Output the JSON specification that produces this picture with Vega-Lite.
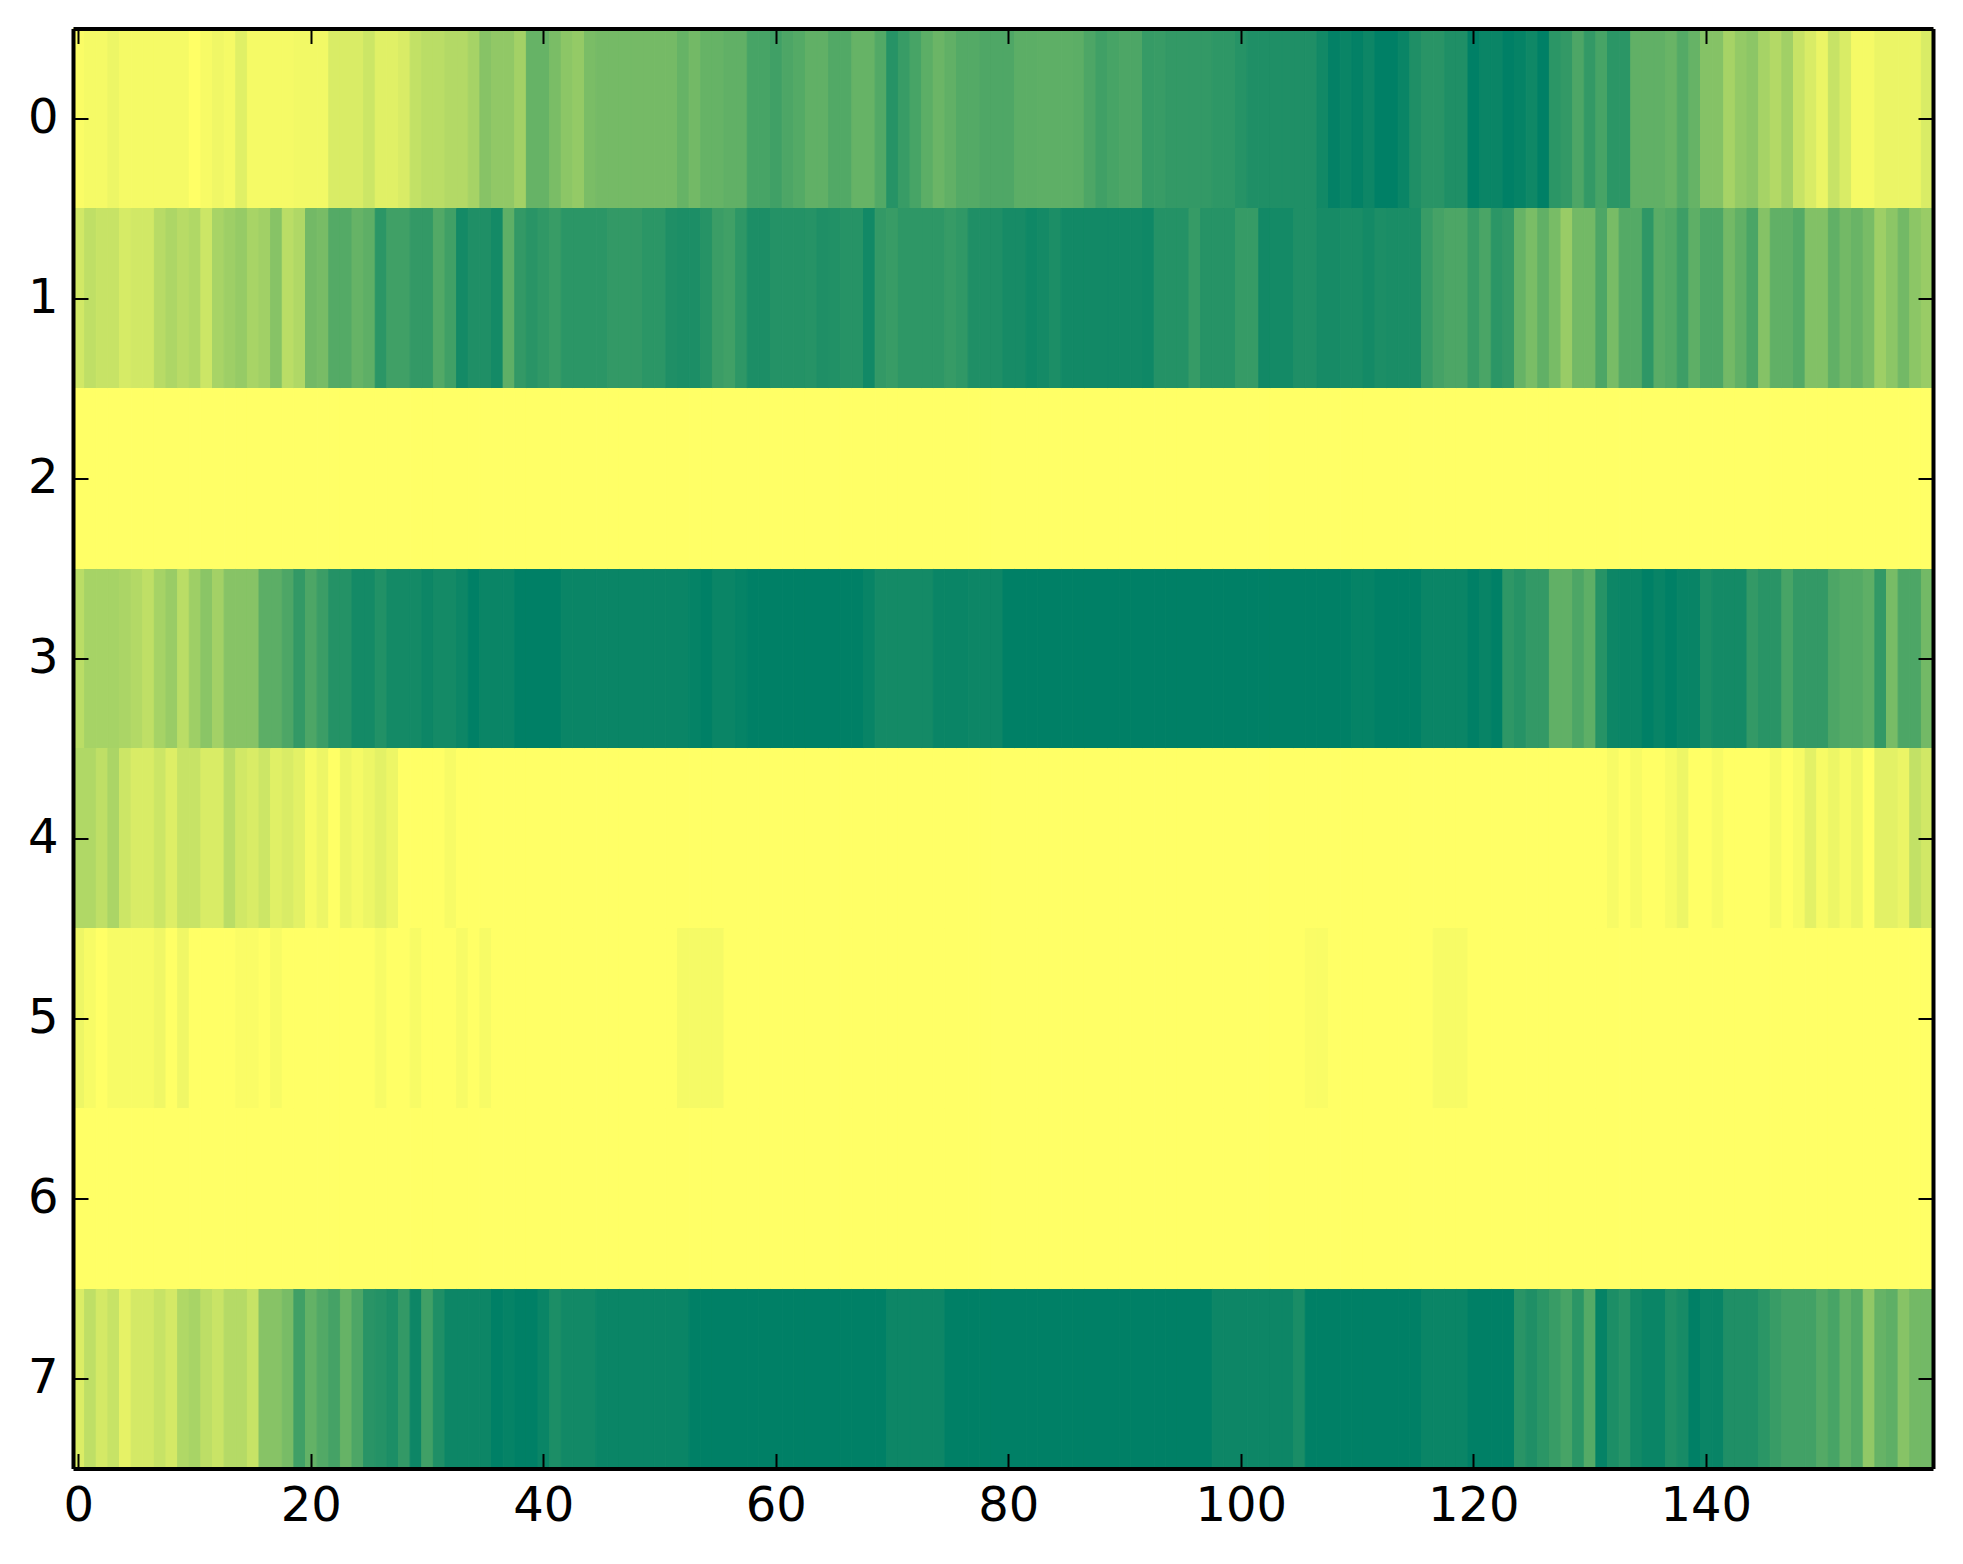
{"$schema":"https://vega.github.io/schema/vega-lite/v6.json","width":1860,"height":1440,"autosize":{"type":"none"},"padding":{"left":73,"top":28.5,"right":30,"bottom":95},"background":"white","config":{"view":{"stroke":null}},"datasets":{"cells":[
{"x":0,"y":0,"v":0.02},{"x":1,"y":0,"v":0.04},{"x":2,"y":0,"v":0.04},{"x":3,"y":0,"v":0.07},{"x":4,"y":0,"v":0.04},{"x":5,"y":0,"v":0.04},{"x":6,"y":0,"v":0.04},{"x":7,"y":0,"v":0.04},{"x":8,"y":0,"v":0.04},{"x":9,"y":0,"v":0.04},{"x":10,"y":0,"v":0},{"x":11,"y":0,"v":0.03},{"x":12,"y":0,"v":0.06},{"x":13,"y":0,"v":0.04},{"x":14,"y":0,"v":0.12},{"x":15,"y":0,"v":0.04},{"x":16,"y":0,"v":0.04},{"x":17,"y":0,"v":0.04},{"x":18,"y":0,"v":0.04},{"x":19,"y":0,"v":0.05},{"x":20,"y":0,"v":0.05},{"x":21,"y":0,"v":0.05},{"x":22,"y":0,"v":0.15},{"x":23,"y":0,"v":0.15},{"x":24,"y":0,"v":0.15},{"x":25,"y":0,"v":0.2},{"x":26,"y":0,"v":0.12},{"x":27,"y":0,"v":0.12},{"x":28,"y":0,"v":0.15},{"x":29,"y":0,"v":0.24},{"x":30,"y":0,"v":0.27},{"x":31,"y":0,"v":0.27},{"x":32,"y":0,"v":0.3},{"x":33,"y":0,"v":0.3},{"x":34,"y":0,"v":0.35},{"x":35,"y":0,"v":0.47},{"x":36,"y":0,"v":0.43},{"x":37,"y":0,"v":0.43},{"x":38,"y":0,"v":0.36},{"x":39,"y":0,"v":0.6},
{"x":40,"y":0,"v":0.6},{"x":41,"y":0,"v":0.52},{"x":42,"y":0,"v":0.45},{"x":43,"y":0,"v":0.42},{"x":44,"y":0,"v":0.52},{"x":45,"y":0,"v":0.54},{"x":46,"y":0,"v":0.54},{"x":47,"y":0,"v":0.54},{"x":48,"y":0,"v":0.54},{"x":49,"y":0,"v":0.54},{"x":50,"y":0,"v":0.54},{"x":51,"y":0,"v":0.54},{"x":52,"y":0,"v":0.6},{"x":53,"y":0,"v":0.55},{"x":54,"y":0,"v":0.6},{"x":55,"y":0,"v":0.6},{"x":56,"y":0,"v":0.62},{"x":57,"y":0,"v":0.62},{"x":58,"y":0,"v":0.72},{"x":59,"y":0,"v":0.72},{"x":60,"y":0,"v":0.75},{"x":61,"y":0,"v":0.7},{"x":62,"y":0,"v":0.67},{"x":63,"y":0,"v":0.62},{"x":64,"y":0,"v":0.62},{"x":65,"y":0,"v":0.68},{"x":66,"y":0,"v":0.68},{"x":67,"y":0,"v":0.6},{"x":68,"y":0,"v":0.6},{"x":69,"y":0,"v":0.68},{"x":70,"y":0,"v":0.85},{"x":71,"y":0,"v":0.78},{"x":72,"y":0,"v":0.72},{"x":73,"y":0,"v":0.64},{"x":74,"y":0,"v":0.58},{"x":75,"y":0,"v":0.62},{"x":76,"y":0,"v":0.67},{"x":77,"y":0,"v":0.67},{"x":78,"y":0,"v":0.69},{"x":79,"y":0,"v":0.69},
{"x":80,"y":0,"v":0.69},{"x":81,"y":0,"v":0.64},{"x":82,"y":0,"v":0.64},{"x":83,"y":0,"v":0.63},{"x":84,"y":0,"v":0.63},{"x":85,"y":0,"v":0.63},{"x":86,"y":0,"v":0.64},{"x":87,"y":0,"v":0.7},{"x":88,"y":0,"v":0.75},{"x":89,"y":0,"v":0.72},{"x":90,"y":0,"v":0.7},{"x":91,"y":0,"v":0.7},{"x":92,"y":0,"v":0.79},{"x":93,"y":0,"v":0.78},{"x":94,"y":0,"v":0.8},{"x":95,"y":0,"v":0.8},{"x":96,"y":0,"v":0.8},{"x":97,"y":0,"v":0.8},{"x":98,"y":0,"v":0.82},{"x":99,"y":0,"v":0.82},{"x":100,"y":0,"v":0.85},{"x":101,"y":0,"v":0.88},{"x":102,"y":0,"v":0.88},{"x":103,"y":0,"v":0.88},{"x":104,"y":0,"v":0.88},{"x":105,"y":0,"v":0.88},{"x":106,"y":0,"v":0.88},{"x":107,"y":0,"v":0.93},{"x":108,"y":0,"v":0.99},{"x":109,"y":0,"v":0.96},{"x":110,"y":0,"v":0.99},{"x":111,"y":0,"v":0.95},{"x":112,"y":0,"v":1},{"x":113,"y":0,"v":1},{"x":114,"y":0,"v":0.96},{"x":115,"y":0,"v":0.88},{"x":116,"y":0,"v":0.84},{"x":117,"y":0,"v":0.84},{"x":118,"y":0,"v":0.88},{"x":119,"y":0,"v":0.88},
{"x":120,"y":0,"v":1},{"x":121,"y":0,"v":0.96},{"x":122,"y":0,"v":0.96},{"x":123,"y":0,"v":1},{"x":124,"y":0,"v":0.98},{"x":125,"y":0,"v":0.94},{"x":126,"y":0,"v":1},{"x":127,"y":0,"v":0.83},{"x":128,"y":0,"v":0.8},{"x":129,"y":0,"v":0.7},{"x":130,"y":0,"v":0.8},{"x":131,"y":0,"v":0.72},{"x":132,"y":0,"v":0.83},{"x":133,"y":0,"v":0.83},{"x":134,"y":0,"v":0.62},{"x":135,"y":0,"v":0.62},{"x":136,"y":0,"v":0.62},{"x":137,"y":0,"v":0.59},{"x":138,"y":0,"v":0.67},{"x":139,"y":0,"v":0.6},{"x":140,"y":0,"v":0.48},{"x":141,"y":0,"v":0.48},{"x":142,"y":0,"v":0.35},{"x":143,"y":0,"v":0.42},{"x":144,"y":0,"v":0.45},{"x":145,"y":0,"v":0.35},{"x":146,"y":0,"v":0.3},{"x":147,"y":0,"v":0.37},{"x":148,"y":0,"v":0.22},{"x":149,"y":0,"v":0.15},{"x":150,"y":0,"v":0.08},{"x":151,"y":0,"v":0.22},{"x":152,"y":0,"v":0.15},{"x":153,"y":0,"v":0.04},{"x":154,"y":0,"v":0.04},{"x":155,"y":0,"v":0.08},{"x":156,"y":0,"v":0.08},{"x":157,"y":0,"v":0.08},{"x":158,"y":0,"v":0.08},{"x":159,"y":0,"v":0.15},
{"x":0,"y":1,"v":0.18},{"x":1,"y":1,"v":0.25},{"x":2,"y":1,"v":0.22},{"x":3,"y":1,"v":0.22},{"x":4,"y":1,"v":0.16},{"x":5,"y":1,"v":0.18},{"x":6,"y":1,"v":0.18},{"x":7,"y":1,"v":0.28},{"x":8,"y":1,"v":0.32},{"x":9,"y":1,"v":0.28},{"x":10,"y":1,"v":0.31},{"x":11,"y":1,"v":0.2},{"x":12,"y":1,"v":0.34},{"x":13,"y":1,"v":0.38},{"x":14,"y":1,"v":0.41},{"x":15,"y":1,"v":0.34},{"x":16,"y":1,"v":0.37},{"x":17,"y":1,"v":0.47},{"x":18,"y":1,"v":0.27},{"x":19,"y":1,"v":0.31},{"x":20,"y":1,"v":0.55},{"x":21,"y":1,"v":0.53},{"x":22,"y":1,"v":0.67},{"x":23,"y":1,"v":0.67},{"x":24,"y":1,"v":0.6},{"x":25,"y":1,"v":0.63},{"x":26,"y":1,"v":0.83},{"x":27,"y":1,"v":0.75},{"x":28,"y":1,"v":0.75},{"x":29,"y":1,"v":0.8},{"x":30,"y":1,"v":0.8},{"x":31,"y":1,"v":0.68},{"x":32,"y":1,"v":0.75},{"x":33,"y":1,"v":0.92},{"x":34,"y":1,"v":0.88},{"x":35,"y":1,"v":0.88},{"x":36,"y":1,"v":0.92},{"x":37,"y":1,"v":0.63},{"x":38,"y":1,"v":0.8},{"x":39,"y":1,"v":0.84},
{"x":40,"y":1,"v":0.81},{"x":41,"y":1,"v":0.78},{"x":42,"y":1,"v":0.83},{"x":43,"y":1,"v":0.83},{"x":44,"y":1,"v":0.83},{"x":45,"y":1,"v":0.83},{"x":46,"y":1,"v":0.8},{"x":47,"y":1,"v":0.8},{"x":48,"y":1,"v":0.8},{"x":49,"y":1,"v":0.83},{"x":50,"y":1,"v":0.83},{"x":51,"y":1,"v":0.88},{"x":52,"y":1,"v":0.89},{"x":53,"y":1,"v":0.89},{"x":54,"y":1,"v":0.85},{"x":55,"y":1,"v":0.77},{"x":56,"y":1,"v":0.75},{"x":57,"y":1,"v":0.82},{"x":58,"y":1,"v":0.89},{"x":59,"y":1,"v":0.89},{"x":60,"y":1,"v":0.86},{"x":61,"y":1,"v":0.86},{"x":62,"y":1,"v":0.86},{"x":63,"y":1,"v":0.85},{"x":64,"y":1,"v":0.88},{"x":65,"y":1,"v":0.87},{"x":66,"y":1,"v":0.85},{"x":67,"y":1,"v":0.85},{"x":68,"y":1,"v":0.93},{"x":69,"y":1,"v":0.8},{"x":70,"y":1,"v":0.78},{"x":71,"y":1,"v":0.82},{"x":72,"y":1,"v":0.82},{"x":73,"y":1,"v":0.82},{"x":74,"y":1,"v":0.82},{"x":75,"y":1,"v":0.79},{"x":76,"y":1,"v":0.81},{"x":77,"y":1,"v":0.88},{"x":78,"y":1,"v":0.88},{"x":79,"y":1,"v":0.88},
{"x":80,"y":1,"v":0.91},{"x":81,"y":1,"v":0.91},{"x":82,"y":1,"v":0.94},{"x":83,"y":1,"v":0.92},{"x":84,"y":1,"v":0.89},{"x":85,"y":1,"v":0.93},{"x":86,"y":1,"v":0.93},{"x":87,"y":1,"v":0.93},{"x":88,"y":1,"v":0.93},{"x":89,"y":1,"v":0.93},{"x":90,"y":1,"v":0.93},{"x":91,"y":1,"v":0.93},{"x":92,"y":1,"v":0.94},{"x":93,"y":1,"v":0.86},{"x":94,"y":1,"v":0.86},{"x":95,"y":1,"v":0.86},{"x":96,"y":1,"v":0.79},{"x":97,"y":1,"v":0.85},{"x":98,"y":1,"v":0.85},{"x":99,"y":1,"v":0.85},{"x":100,"y":1,"v":0.79},{"x":101,"y":1,"v":0.79},{"x":102,"y":1,"v":0.93},{"x":103,"y":1,"v":0.92},{"x":104,"y":1,"v":0.92},{"x":105,"y":1,"v":0.88},{"x":106,"y":1,"v":0.88},{"x":107,"y":1,"v":0.91},{"x":108,"y":1,"v":0.91},{"x":109,"y":1,"v":0.9},{"x":110,"y":1,"v":0.9},{"x":111,"y":1,"v":0.92},{"x":112,"y":1,"v":0.89},{"x":113,"y":1,"v":0.9},{"x":114,"y":1,"v":0.9},{"x":115,"y":1,"v":0.9},{"x":116,"y":1,"v":0.78},{"x":117,"y":1,"v":0.73},{"x":118,"y":1,"v":0.7},{"x":119,"y":1,"v":0.7},
{"x":120,"y":1,"v":0.78},{"x":121,"y":1,"v":0.71},{"x":122,"y":1,"v":0.83},{"x":123,"y":1,"v":0.8},{"x":124,"y":1,"v":0.6},{"x":125,"y":1,"v":0.52},{"x":126,"y":1,"v":0.62},{"x":127,"y":1,"v":0.53},{"x":128,"y":1,"v":0.4},{"x":129,"y":1,"v":0.55},{"x":130,"y":1,"v":0.55},{"x":131,"y":1,"v":0.7},{"x":132,"y":1,"v":0.53},{"x":133,"y":1,"v":0.67},{"x":134,"y":1,"v":0.67},{"x":135,"y":1,"v":0.82},{"x":136,"y":1,"v":0.65},{"x":137,"y":1,"v":0.68},{"x":138,"y":1,"v":0.76},{"x":139,"y":1,"v":0.63},{"x":140,"y":1,"v":0.7},{"x":141,"y":1,"v":0.7},{"x":142,"y":1,"v":0.55},{"x":143,"y":1,"v":0.62},{"x":144,"y":1,"v":0.71},{"x":145,"y":1,"v":0.48},{"x":146,"y":1,"v":0.62},{"x":147,"y":1,"v":0.62},{"x":148,"y":1,"v":0.67},{"x":149,"y":1,"v":0.49},{"x":150,"y":1,"v":0.49},{"x":151,"y":1,"v":0.62},{"x":152,"y":1,"v":0.55},{"x":153,"y":1,"v":0.59},{"x":154,"y":1,"v":0.53},{"x":155,"y":1,"v":0.38},{"x":156,"y":1,"v":0.45},{"x":157,"y":1,"v":0.55},{"x":158,"y":1,"v":0.45},{"x":159,"y":1,"v":0.4},
{"x":0,"y":3,"v":0.27},{"x":1,"y":3,"v":0.35},{"x":2,"y":3,"v":0.35},{"x":3,"y":3,"v":0.35},{"x":4,"y":3,"v":0.33},{"x":5,"y":3,"v":0.3},{"x":6,"y":3,"v":0.25},{"x":7,"y":3,"v":0.35},{"x":8,"y":3,"v":0.4},{"x":9,"y":3,"v":0.27},{"x":10,"y":3,"v":0.38},{"x":11,"y":3,"v":0.46},{"x":12,"y":3,"v":0.36},{"x":13,"y":3,"v":0.47},{"x":14,"y":3,"v":0.47},{"x":15,"y":3,"v":0.47},{"x":16,"y":3,"v":0.64},{"x":17,"y":3,"v":0.64},{"x":18,"y":3,"v":0.7},{"x":19,"y":3,"v":0.8},{"x":20,"y":3,"v":0.7},{"x":21,"y":3,"v":0.77},{"x":22,"y":3,"v":0.86},{"x":23,"y":3,"v":0.86},{"x":24,"y":3,"v":0.92},{"x":25,"y":3,"v":0.92},{"x":26,"y":3,"v":0.87},{"x":27,"y":3,"v":0.92},{"x":28,"y":3,"v":0.92},{"x":29,"y":3,"v":0.92},{"x":30,"y":3,"v":0.95},{"x":31,"y":3,"v":0.92},{"x":32,"y":3,"v":0.92},{"x":33,"y":3,"v":0.95},{"x":34,"y":3,"v":1},{"x":35,"y":3,"v":0.96},{"x":36,"y":3,"v":0.96},{"x":37,"y":3,"v":0.96},{"x":38,"y":3,"v":1},{"x":39,"y":3,"v":1},
{"x":40,"y":3,"v":1},{"x":41,"y":3,"v":1},{"x":42,"y":3,"v":0.96},{"x":43,"y":3,"v":0.96},{"x":44,"y":3,"v":0.96},{"x":45,"y":3,"v":0.96},{"x":46,"y":3,"v":0.96},{"x":47,"y":3,"v":0.96},{"x":48,"y":3,"v":0.96},{"x":49,"y":3,"v":0.96},{"x":50,"y":3,"v":0.96},{"x":51,"y":3,"v":0.96},{"x":52,"y":3,"v":0.96},{"x":53,"y":3,"v":0.98},{"x":54,"y":3,"v":1},{"x":55,"y":3,"v":0.96},{"x":56,"y":3,"v":0.96},{"x":57,"y":3,"v":0.98},{"x":58,"y":3,"v":1},{"x":59,"y":3,"v":1},{"x":60,"y":3,"v":1},{"x":61,"y":3,"v":1},{"x":62,"y":3,"v":1},{"x":63,"y":3,"v":1},{"x":64,"y":3,"v":1},{"x":65,"y":3,"v":1},{"x":66,"y":3,"v":1},{"x":67,"y":3,"v":1},{"x":68,"y":3,"v":0.97},{"x":69,"y":3,"v":0.92},{"x":70,"y":3,"v":0.92},{"x":71,"y":3,"v":0.92},{"x":72,"y":3,"v":0.92},{"x":73,"y":3,"v":0.92},{"x":74,"y":3,"v":0.96},{"x":75,"y":3,"v":0.96},{"x":76,"y":3,"v":0.96},{"x":77,"y":3,"v":0.95},{"x":78,"y":3,"v":0.95},{"x":79,"y":3,"v":0.95},
{"x":80,"y":3,"v":1},{"x":81,"y":3,"v":1},{"x":82,"y":3,"v":1},{"x":83,"y":3,"v":1},{"x":84,"y":3,"v":1},{"x":85,"y":3,"v":1},{"x":86,"y":3,"v":1},{"x":87,"y":3,"v":1},{"x":88,"y":3,"v":1},{"x":89,"y":3,"v":1},{"x":90,"y":3,"v":1},{"x":91,"y":3,"v":1},{"x":92,"y":3,"v":1},{"x":93,"y":3,"v":1},{"x":94,"y":3,"v":1},{"x":95,"y":3,"v":1},{"x":96,"y":3,"v":1},{"x":97,"y":3,"v":1},{"x":98,"y":3,"v":1},{"x":99,"y":3,"v":1},{"x":100,"y":3,"v":1},{"x":101,"y":3,"v":1},{"x":102,"y":3,"v":1},{"x":103,"y":3,"v":1},{"x":104,"y":3,"v":1},{"x":105,"y":3,"v":1},{"x":106,"y":3,"v":1},{"x":107,"y":3,"v":1},{"x":108,"y":3,"v":1},{"x":109,"y":3,"v":1},{"x":110,"y":3,"v":0.98},{"x":111,"y":3,"v":0.98},{"x":112,"y":3,"v":1},{"x":113,"y":3,"v":1},{"x":114,"y":3,"v":1},{"x":115,"y":3,"v":1},{"x":116,"y":3,"v":0.96},{"x":117,"y":3,"v":0.96},{"x":118,"y":3,"v":0.96},{"x":119,"y":3,"v":0.96},
{"x":120,"y":3,"v":1},{"x":121,"y":3,"v":0.97},{"x":122,"y":3,"v":1},{"x":123,"y":3,"v":0.82},{"x":124,"y":3,"v":0.85},{"x":125,"y":3,"v":0.8},{"x":126,"y":3,"v":0.8},{"x":127,"y":3,"v":0.62},{"x":128,"y":3,"v":0.62},{"x":129,"y":3,"v":0.7},{"x":130,"y":3,"v":0.63},{"x":131,"y":3,"v":0.85},{"x":132,"y":3,"v":0.95},{"x":133,"y":3,"v":0.96},{"x":134,"y":3,"v":0.96},{"x":135,"y":3,"v":1},{"x":136,"y":3,"v":0.97},{"x":137,"y":3,"v":1},{"x":138,"y":3,"v":0.97},{"x":139,"y":3,"v":0.97},{"x":140,"y":3,"v":0.89},{"x":141,"y":3,"v":0.92},{"x":142,"y":3,"v":0.92},{"x":143,"y":3,"v":0.92},{"x":144,"y":3,"v":0.8},{"x":145,"y":3,"v":0.84},{"x":146,"y":3,"v":0.84},{"x":147,"y":3,"v":0.72},{"x":148,"y":3,"v":0.8},{"x":149,"y":3,"v":0.8},{"x":150,"y":3,"v":0.8},{"x":151,"y":3,"v":0.7},{"x":152,"y":3,"v":0.67},{"x":153,"y":3,"v":0.67},{"x":154,"y":3,"v":0.63},{"x":155,"y":3,"v":0.8},{"x":156,"y":3,"v":0.53},{"x":157,"y":3,"v":0.7},{"x":158,"y":3,"v":0.7},{"x":159,"y":3,"v":0.55},
{"x":0,"y":4,"v":0.31},{"x":1,"y":4,"v":0.31},{"x":2,"y":4,"v":0.25},{"x":3,"y":4,"v":0.33},{"x":4,"y":4,"v":0.2},{"x":5,"y":4,"v":0.15},{"x":6,"y":4,"v":0.15},{"x":7,"y":4,"v":0.2},{"x":8,"y":4,"v":0.13},{"x":9,"y":4,"v":0.22},{"x":10,"y":4,"v":0.22},{"x":11,"y":4,"v":0.15},{"x":12,"y":4,"v":0.15},{"x":13,"y":4,"v":0.27},{"x":14,"y":4,"v":0.18},{"x":15,"y":4,"v":0.15},{"x":16,"y":4,"v":0.2},{"x":17,"y":4,"v":0.12},{"x":18,"y":4,"v":0.15},{"x":19,"y":4,"v":0.11},{"x":20,"y":4,"v":0.03},{"x":21,"y":4,"v":0.07},{"x":22,"y":4,"v":0},{"x":23,"y":4,"v":0.07},{"x":24,"y":4,"v":0.04},{"x":25,"y":4,"v":0.07},{"x":26,"y":4,"v":0.11},{"x":27,"y":4,"v":0.07},{"x":28,"y":4,"v":0},{"x":29,"y":4,"v":0},{"x":30,"y":4,"v":0},{"x":31,"y":4,"v":0},{"x":32,"y":4,"v":0.03},{"x":33,"y":4,"v":0},{"x":34,"y":4,"v":0},{"x":35,"y":4,"v":0},{"x":36,"y":4,"v":0},{"x":37,"y":4,"v":0},{"x":38,"y":4,"v":0},{"x":39,"y":4,"v":0},
{"x":40,"y":4,"v":0},{"x":41,"y":4,"v":0},{"x":42,"y":4,"v":0},{"x":43,"y":4,"v":0},{"x":44,"y":4,"v":0},{"x":45,"y":4,"v":0},{"x":46,"y":4,"v":0},{"x":47,"y":4,"v":0},{"x":48,"y":4,"v":0},{"x":49,"y":4,"v":0},{"x":50,"y":4,"v":0},{"x":51,"y":4,"v":0},{"x":52,"y":4,"v":0},{"x":53,"y":4,"v":0},{"x":54,"y":4,"v":0},{"x":55,"y":4,"v":0},{"x":56,"y":4,"v":0},{"x":57,"y":4,"v":0},{"x":58,"y":4,"v":0},{"x":59,"y":4,"v":0},{"x":60,"y":4,"v":0},{"x":61,"y":4,"v":0},{"x":62,"y":4,"v":0},{"x":63,"y":4,"v":0},{"x":64,"y":4,"v":0},{"x":65,"y":4,"v":0},{"x":66,"y":4,"v":0},{"x":67,"y":4,"v":0},{"x":68,"y":4,"v":0},{"x":69,"y":4,"v":0},{"x":70,"y":4,"v":0},{"x":71,"y":4,"v":0},{"x":72,"y":4,"v":0},{"x":73,"y":4,"v":0},{"x":74,"y":4,"v":0},{"x":75,"y":4,"v":0},{"x":76,"y":4,"v":0},{"x":77,"y":4,"v":0},{"x":78,"y":4,"v":0},{"x":79,"y":4,"v":0},
{"x":80,"y":4,"v":0},{"x":81,"y":4,"v":0},{"x":82,"y":4,"v":0},{"x":83,"y":4,"v":0},{"x":84,"y":4,"v":0},{"x":85,"y":4,"v":0},{"x":86,"y":4,"v":0},{"x":87,"y":4,"v":0},{"x":88,"y":4,"v":0},{"x":89,"y":4,"v":0},{"x":90,"y":4,"v":0},{"x":91,"y":4,"v":0},{"x":92,"y":4,"v":0},{"x":93,"y":4,"v":0},{"x":94,"y":4,"v":0},{"x":95,"y":4,"v":0},{"x":96,"y":4,"v":0},{"x":97,"y":4,"v":0},{"x":98,"y":4,"v":0},{"x":99,"y":4,"v":0},{"x":100,"y":4,"v":0},{"x":101,"y":4,"v":0},{"x":102,"y":4,"v":0},{"x":103,"y":4,"v":0},{"x":104,"y":4,"v":0},{"x":105,"y":4,"v":0},{"x":106,"y":4,"v":0},{"x":107,"y":4,"v":0},{"x":108,"y":4,"v":0},{"x":109,"y":4,"v":0},{"x":110,"y":4,"v":0},{"x":111,"y":4,"v":0},{"x":112,"y":4,"v":0},{"x":113,"y":4,"v":0},{"x":114,"y":4,"v":0},{"x":115,"y":4,"v":0},{"x":116,"y":4,"v":0},{"x":117,"y":4,"v":0},{"x":118,"y":4,"v":0},{"x":119,"y":4,"v":0},
{"x":120,"y":4,"v":0},{"x":121,"y":4,"v":0},{"x":122,"y":4,"v":0},{"x":123,"y":4,"v":0},{"x":124,"y":4,"v":0},{"x":125,"y":4,"v":0},{"x":126,"y":4,"v":0},{"x":127,"y":4,"v":0},{"x":128,"y":4,"v":0},{"x":129,"y":4,"v":0},{"x":130,"y":4,"v":0},{"x":131,"y":4,"v":0},{"x":132,"y":4,"v":0.03},{"x":133,"y":4,"v":0},{"x":134,"y":4,"v":0.03},{"x":135,"y":4,"v":0},{"x":136,"y":4,"v":0},{"x":137,"y":4,"v":0.03},{"x":138,"y":4,"v":0.07},{"x":139,"y":4,"v":0},{"x":140,"y":4,"v":0},{"x":141,"y":4,"v":0.03},{"x":142,"y":4,"v":0},{"x":143,"y":4,"v":0},{"x":144,"y":4,"v":0},{"x":145,"y":4,"v":0},{"x":146,"y":4,"v":0.04},{"x":147,"y":4,"v":0},{"x":148,"y":4,"v":0.03},{"x":149,"y":4,"v":0.11},{"x":150,"y":4,"v":0.03},{"x":151,"y":4,"v":0.07},{"x":152,"y":4,"v":0.03},{"x":153,"y":4,"v":0.07},{"x":154,"y":4,"v":0},{"x":155,"y":4,"v":0.11},{"x":156,"y":4,"v":0.11},{"x":157,"y":4,"v":0.08},{"x":158,"y":4,"v":0.24},{"x":159,"y":4,"v":0.18},
{"x":0,"y":5,"v":0.07},{"x":1,"y":5,"v":0.03},{"x":2,"y":5,"v":0},{"x":3,"y":5,"v":0.03},{"x":4,"y":5,"v":0.03},{"x":5,"y":5,"v":0.03},{"x":6,"y":5,"v":0.03},{"x":7,"y":5,"v":0.06},{"x":8,"y":5,"v":0},{"x":9,"y":5,"v":0.06},{"x":10,"y":5,"v":0},{"x":11,"y":5,"v":0},{"x":12,"y":5,"v":0},{"x":13,"y":5,"v":0},{"x":14,"y":5,"v":0.02},{"x":15,"y":5,"v":0.02},{"x":16,"y":5,"v":0},{"x":17,"y":5,"v":0.03},{"x":18,"y":5,"v":0},{"x":19,"y":5,"v":0},{"x":20,"y":5,"v":0},{"x":21,"y":5,"v":0},{"x":22,"y":5,"v":0},{"x":23,"y":5,"v":0},{"x":24,"y":5,"v":0},{"x":25,"y":5,"v":0},{"x":26,"y":5,"v":0.03},{"x":27,"y":5,"v":0},{"x":28,"y":5,"v":0},{"x":29,"y":5,"v":0.03},{"x":30,"y":5,"v":0},{"x":31,"y":5,"v":0},{"x":32,"y":5,"v":0},{"x":33,"y":5,"v":0.03},{"x":34,"y":5,"v":0},{"x":35,"y":5,"v":0.03},{"x":36,"y":5,"v":0},{"x":37,"y":5,"v":0},{"x":38,"y":5,"v":0},{"x":39,"y":5,"v":0},
{"x":40,"y":5,"v":0},{"x":41,"y":5,"v":0},{"x":42,"y":5,"v":0},{"x":43,"y":5,"v":0},{"x":44,"y":5,"v":0},{"x":45,"y":5,"v":0},{"x":46,"y":5,"v":0},{"x":47,"y":5,"v":0},{"x":48,"y":5,"v":0},{"x":49,"y":5,"v":0},{"x":50,"y":5,"v":0},{"x":51,"y":5,"v":0},{"x":52,"y":5,"v":0.04},{"x":53,"y":5,"v":0.04},{"x":54,"y":5,"v":0.04},{"x":55,"y":5,"v":0.04},{"x":56,"y":5,"v":0},{"x":57,"y":5,"v":0},{"x":58,"y":5,"v":0},{"x":59,"y":5,"v":0},{"x":60,"y":5,"v":0},{"x":61,"y":5,"v":0},{"x":62,"y":5,"v":0},{"x":63,"y":5,"v":0},{"x":64,"y":5,"v":0},{"x":65,"y":5,"v":0},{"x":66,"y":5,"v":0},{"x":67,"y":5,"v":0},{"x":68,"y":5,"v":0},{"x":69,"y":5,"v":0},{"x":70,"y":5,"v":0},{"x":71,"y":5,"v":0},{"x":72,"y":5,"v":0},{"x":73,"y":5,"v":0},{"x":74,"y":5,"v":0},{"x":75,"y":5,"v":0},{"x":76,"y":5,"v":0},{"x":77,"y":5,"v":0},{"x":78,"y":5,"v":0},{"x":79,"y":5,"v":0},
{"x":80,"y":5,"v":0},{"x":81,"y":5,"v":0},{"x":82,"y":5,"v":0},{"x":83,"y":5,"v":0},{"x":84,"y":5,"v":0},{"x":85,"y":5,"v":0},{"x":86,"y":5,"v":0},{"x":87,"y":5,"v":0},{"x":88,"y":5,"v":0},{"x":89,"y":5,"v":0},{"x":90,"y":5,"v":0},{"x":91,"y":5,"v":0},{"x":92,"y":5,"v":0},{"x":93,"y":5,"v":0},{"x":94,"y":5,"v":0},{"x":95,"y":5,"v":0},{"x":96,"y":5,"v":0},{"x":97,"y":5,"v":0},{"x":98,"y":5,"v":0},{"x":99,"y":5,"v":0},{"x":100,"y":5,"v":0},{"x":101,"y":5,"v":0},{"x":102,"y":5,"v":0},{"x":103,"y":5,"v":0},{"x":104,"y":5,"v":0},{"x":105,"y":5,"v":0},{"x":106,"y":5,"v":0.02},{"x":107,"y":5,"v":0.025},{"x":108,"y":5,"v":0},{"x":109,"y":5,"v":0},{"x":110,"y":5,"v":0},{"x":111,"y":5,"v":0},{"x":112,"y":5,"v":0},{"x":113,"y":5,"v":0},{"x":114,"y":5,"v":0},{"x":115,"y":5,"v":0},{"x":116,"y":5,"v":0},{"x":117,"y":5,"v":0.03},{"x":118,"y":5,"v":0.03},{"x":119,"y":5,"v":0.03},
{"x":120,"y":5,"v":0},{"x":121,"y":5,"v":0},{"x":122,"y":5,"v":0},{"x":123,"y":5,"v":0},{"x":124,"y":5,"v":0},{"x":125,"y":5,"v":0},{"x":126,"y":5,"v":0},{"x":127,"y":5,"v":0},{"x":128,"y":5,"v":0},{"x":129,"y":5,"v":0},{"x":130,"y":5,"v":0},{"x":131,"y":5,"v":0},{"x":132,"y":5,"v":0},{"x":133,"y":5,"v":0},{"x":134,"y":5,"v":0},{"x":135,"y":5,"v":0},{"x":136,"y":5,"v":0},{"x":137,"y":5,"v":0},{"x":138,"y":5,"v":0},{"x":139,"y":5,"v":0},{"x":140,"y":5,"v":0},{"x":141,"y":5,"v":0},{"x":142,"y":5,"v":0},{"x":143,"y":5,"v":0},{"x":144,"y":5,"v":0},{"x":145,"y":5,"v":0},{"x":146,"y":5,"v":0},{"x":147,"y":5,"v":0},{"x":148,"y":5,"v":0},{"x":149,"y":5,"v":0},{"x":150,"y":5,"v":0},{"x":151,"y":5,"v":0},{"x":152,"y":5,"v":0},{"x":153,"y":5,"v":0},{"x":154,"y":5,"v":0},{"x":155,"y":5,"v":0},{"x":156,"y":5,"v":0},{"x":157,"y":5,"v":0},{"x":158,"y":5,"v":0},{"x":159,"y":5,"v":0},
{"x":0,"y":7,"v":0.14},{"x":1,"y":7,"v":0.25},{"x":2,"y":7,"v":0.17},{"x":3,"y":7,"v":0.22},{"x":4,"y":7,"v":0.1},{"x":5,"y":7,"v":0.17},{"x":6,"y":7,"v":0.17},{"x":7,"y":7,"v":0.22},{"x":8,"y":7,"v":0.17},{"x":9,"y":7,"v":0.31},{"x":10,"y":7,"v":0.34},{"x":11,"y":7,"v":0.26},{"x":12,"y":7,"v":0.21},{"x":13,"y":7,"v":0.29},{"x":14,"y":7,"v":0.29},{"x":15,"y":7,"v":0.22},{"x":16,"y":7,"v":0.47},{"x":17,"y":7,"v":0.47},{"x":18,"y":7,"v":0.53},{"x":19,"y":7,"v":0.75},{"x":20,"y":7,"v":0.61},{"x":21,"y":7,"v":0.68},{"x":22,"y":7,"v":0.73},{"x":23,"y":7,"v":0.6},{"x":24,"y":7,"v":0.7},{"x":25,"y":7,"v":0.84},{"x":26,"y":7,"v":0.86},{"x":27,"y":7,"v":0.89},{"x":28,"y":7,"v":0.8},{"x":29,"y":7,"v":0.95},{"x":30,"y":7,"v":0.75},{"x":31,"y":7,"v":0.88},{"x":32,"y":7,"v":0.95},{"x":33,"y":7,"v":0.95},{"x":34,"y":7,"v":0.95},{"x":35,"y":7,"v":0.95},{"x":36,"y":7,"v":1},{"x":37,"y":7,"v":0.98},{"x":38,"y":7,"v":1},{"x":39,"y":7,"v":1},
{"x":40,"y":7,"v":0.96},{"x":41,"y":7,"v":0.89},{"x":42,"y":7,"v":0.93},{"x":43,"y":7,"v":0.93},{"x":44,"y":7,"v":0.93},{"x":45,"y":7,"v":0.96},{"x":46,"y":7,"v":0.96},{"x":47,"y":7,"v":0.96},{"x":48,"y":7,"v":0.96},{"x":49,"y":7,"v":0.96},{"x":50,"y":7,"v":0.96},{"x":51,"y":7,"v":0.96},{"x":52,"y":7,"v":0.96},{"x":53,"y":7,"v":1},{"x":54,"y":7,"v":1},{"x":55,"y":7,"v":1},{"x":56,"y":7,"v":1},{"x":57,"y":7,"v":1},{"x":58,"y":7,"v":1},{"x":59,"y":7,"v":1},{"x":60,"y":7,"v":1},{"x":61,"y":7,"v":1},{"x":62,"y":7,"v":1},{"x":63,"y":7,"v":1},{"x":64,"y":7,"v":1},{"x":65,"y":7,"v":1},{"x":66,"y":7,"v":1},{"x":67,"y":7,"v":1},{"x":68,"y":7,"v":1},{"x":69,"y":7,"v":1},{"x":70,"y":7,"v":0.95},{"x":71,"y":7,"v":0.95},{"x":72,"y":7,"v":0.95},{"x":73,"y":7,"v":0.95},{"x":74,"y":7,"v":0.95},{"x":75,"y":7,"v":1},{"x":76,"y":7,"v":1},{"x":77,"y":7,"v":1},{"x":78,"y":7,"v":1},{"x":79,"y":7,"v":1},
{"x":80,"y":7,"v":1},{"x":81,"y":7,"v":1},{"x":82,"y":7,"v":1},{"x":83,"y":7,"v":1},{"x":84,"y":7,"v":1},{"x":85,"y":7,"v":1},{"x":86,"y":7,"v":1},{"x":87,"y":7,"v":1},{"x":88,"y":7,"v":1},{"x":89,"y":7,"v":1},{"x":90,"y":7,"v":1},{"x":91,"y":7,"v":1},{"x":92,"y":7,"v":1},{"x":93,"y":7,"v":1},{"x":94,"y":7,"v":1},{"x":95,"y":7,"v":1},{"x":96,"y":7,"v":1},{"x":97,"y":7,"v":1},{"x":98,"y":7,"v":0.95},{"x":99,"y":7,"v":0.95},{"x":100,"y":7,"v":0.95},{"x":101,"y":7,"v":0.95},{"x":102,"y":7,"v":0.95},{"x":103,"y":7,"v":0.95},{"x":104,"y":7,"v":0.95},{"x":105,"y":7,"v":0.9},{"x":106,"y":7,"v":1},{"x":107,"y":7,"v":1},{"x":108,"y":7,"v":1},{"x":109,"y":7,"v":1},{"x":110,"y":7,"v":1},{"x":111,"y":7,"v":1},{"x":112,"y":7,"v":1},{"x":113,"y":7,"v":1},{"x":114,"y":7,"v":1},{"x":115,"y":7,"v":1},{"x":116,"y":7,"v":0.96},{"x":117,"y":7,"v":0.96},{"x":118,"y":7,"v":0.96},{"x":119,"y":7,"v":0.96},
{"x":120,"y":7,"v":1},{"x":121,"y":7,"v":1},{"x":122,"y":7,"v":1},{"x":123,"y":7,"v":1},{"x":124,"y":7,"v":0.84},{"x":125,"y":7,"v":0.88},{"x":126,"y":7,"v":0.83},{"x":127,"y":7,"v":0.78},{"x":128,"y":7,"v":0.72},{"x":129,"y":7,"v":0.83},{"x":130,"y":7,"v":0.67},{"x":131,"y":7,"v":0.98},{"x":132,"y":7,"v":0.89},{"x":133,"y":7,"v":0.85},{"x":134,"y":7,"v":0.93},{"x":135,"y":7,"v":0.96},{"x":136,"y":7,"v":0.96},{"x":137,"y":7,"v":0.88},{"x":138,"y":7,"v":0.91},{"x":139,"y":7,"v":1},{"x":140,"y":7,"v":0.96},{"x":141,"y":7,"v":0.97},{"x":142,"y":7,"v":0.88},{"x":143,"y":7,"v":0.88},{"x":144,"y":7,"v":0.88},{"x":145,"y":7,"v":0.83},{"x":146,"y":7,"v":0.78},{"x":147,"y":7,"v":0.74},{"x":148,"y":7,"v":0.74},{"x":149,"y":7,"v":0.74},{"x":150,"y":7,"v":0.67},{"x":151,"y":7,"v":0.72},{"x":152,"y":7,"v":0.61},{"x":153,"y":7,"v":0.67},{"x":154,"y":7,"v":0.43},{"x":155,"y":7,"v":0.6},{"x":156,"y":7,"v":0.63},{"x":157,"y":7,"v":0.47},{"x":158,"y":7,"v":0.55},{"x":159,"y":7,"v":0.55},
{"x":0,"y":2,"v":0},{"x":1,"y":2,"v":0},{"x":2,"y":2,"v":0},{"x":3,"y":2,"v":0},{"x":4,"y":2,"v":0},{"x":5,"y":2,"v":0},{"x":6,"y":2,"v":0},{"x":7,"y":2,"v":0},{"x":8,"y":2,"v":0},{"x":9,"y":2,"v":0},{"x":10,"y":2,"v":0},{"x":11,"y":2,"v":0},{"x":12,"y":2,"v":0},{"x":13,"y":2,"v":0},{"x":14,"y":2,"v":0},{"x":15,"y":2,"v":0},{"x":16,"y":2,"v":0},{"x":17,"y":2,"v":0},{"x":18,"y":2,"v":0},{"x":19,"y":2,"v":0},{"x":20,"y":2,"v":0},{"x":21,"y":2,"v":0},{"x":22,"y":2,"v":0},{"x":23,"y":2,"v":0},{"x":24,"y":2,"v":0},{"x":25,"y":2,"v":0},{"x":26,"y":2,"v":0},{"x":27,"y":2,"v":0},{"x":28,"y":2,"v":0},{"x":29,"y":2,"v":0},{"x":30,"y":2,"v":0},{"x":31,"y":2,"v":0},{"x":32,"y":2,"v":0},{"x":33,"y":2,"v":0},{"x":34,"y":2,"v":0},{"x":35,"y":2,"v":0},{"x":36,"y":2,"v":0},{"x":37,"y":2,"v":0},{"x":38,"y":2,"v":0},{"x":39,"y":2,"v":0},{"x":40,"y":2,"v":0},{"x":41,"y":2,"v":0},{"x":42,"y":2,"v":0},{"x":43,"y":2,"v":0},{"x":44,"y":2,"v":0},{"x":45,"y":2,"v":0},{"x":46,"y":2,"v":0},{"x":47,"y":2,"v":0},{"x":48,"y":2,"v":0},{"x":49,"y":2,"v":0},{"x":50,"y":2,"v":0},{"x":51,"y":2,"v":0},{"x":52,"y":2,"v":0},{"x":53,"y":2,"v":0},{"x":54,"y":2,"v":0},{"x":55,"y":2,"v":0},{"x":56,"y":2,"v":0},{"x":57,"y":2,"v":0},{"x":58,"y":2,"v":0},{"x":59,"y":2,"v":0},{"x":60,"y":2,"v":0},{"x":61,"y":2,"v":0},{"x":62,"y":2,"v":0},{"x":63,"y":2,"v":0},{"x":64,"y":2,"v":0},{"x":65,"y":2,"v":0},{"x":66,"y":2,"v":0},{"x":67,"y":2,"v":0},{"x":68,"y":2,"v":0},{"x":69,"y":2,"v":0},{"x":70,"y":2,"v":0},{"x":71,"y":2,"v":0},{"x":72,"y":2,"v":0},{"x":73,"y":2,"v":0},{"x":74,"y":2,"v":0},{"x":75,"y":2,"v":0},{"x":76,"y":2,"v":0},{"x":77,"y":2,"v":0},{"x":78,"y":2,"v":0},{"x":79,"y":2,"v":0},
{"x":80,"y":2,"v":0},{"x":81,"y":2,"v":0},{"x":82,"y":2,"v":0},{"x":83,"y":2,"v":0},{"x":84,"y":2,"v":0},{"x":85,"y":2,"v":0},{"x":86,"y":2,"v":0},{"x":87,"y":2,"v":0},{"x":88,"y":2,"v":0},{"x":89,"y":2,"v":0},{"x":90,"y":2,"v":0},{"x":91,"y":2,"v":0},{"x":92,"y":2,"v":0},{"x":93,"y":2,"v":0},{"x":94,"y":2,"v":0},{"x":95,"y":2,"v":0},{"x":96,"y":2,"v":0},{"x":97,"y":2,"v":0},{"x":98,"y":2,"v":0},{"x":99,"y":2,"v":0},{"x":100,"y":2,"v":0},{"x":101,"y":2,"v":0},{"x":102,"y":2,"v":0},{"x":103,"y":2,"v":0},{"x":104,"y":2,"v":0},{"x":105,"y":2,"v":0},{"x":106,"y":2,"v":0},{"x":107,"y":2,"v":0},{"x":108,"y":2,"v":0},{"x":109,"y":2,"v":0},{"x":110,"y":2,"v":0},{"x":111,"y":2,"v":0},{"x":112,"y":2,"v":0},{"x":113,"y":2,"v":0},{"x":114,"y":2,"v":0},{"x":115,"y":2,"v":0},{"x":116,"y":2,"v":0},{"x":117,"y":2,"v":0},{"x":118,"y":2,"v":0},{"x":119,"y":2,"v":0},{"x":120,"y":2,"v":0},{"x":121,"y":2,"v":0},{"x":122,"y":2,"v":0},{"x":123,"y":2,"v":0},{"x":124,"y":2,"v":0},{"x":125,"y":2,"v":0},{"x":126,"y":2,"v":0},{"x":127,"y":2,"v":0},{"x":128,"y":2,"v":0},{"x":129,"y":2,"v":0},{"x":130,"y":2,"v":0},{"x":131,"y":2,"v":0},{"x":132,"y":2,"v":0},{"x":133,"y":2,"v":0},{"x":134,"y":2,"v":0},{"x":135,"y":2,"v":0},{"x":136,"y":2,"v":0},{"x":137,"y":2,"v":0},{"x":138,"y":2,"v":0},{"x":139,"y":2,"v":0},{"x":140,"y":2,"v":0},{"x":141,"y":2,"v":0},{"x":142,"y":2,"v":0},{"x":143,"y":2,"v":0},{"x":144,"y":2,"v":0},{"x":145,"y":2,"v":0},{"x":146,"y":2,"v":0},{"x":147,"y":2,"v":0},{"x":148,"y":2,"v":0},{"x":149,"y":2,"v":0},{"x":150,"y":2,"v":0},{"x":151,"y":2,"v":0},{"x":152,"y":2,"v":0},{"x":153,"y":2,"v":0},{"x":154,"y":2,"v":0},{"x":155,"y":2,"v":0},{"x":156,"y":2,"v":0},{"x":157,"y":2,"v":0},{"x":158,"y":2,"v":0},{"x":159,"y":2,"v":0},
{"x":0,"y":6,"v":0},{"x":1,"y":6,"v":0},{"x":2,"y":6,"v":0},{"x":3,"y":6,"v":0},{"x":4,"y":6,"v":0},{"x":5,"y":6,"v":0},{"x":6,"y":6,"v":0},{"x":7,"y":6,"v":0},{"x":8,"y":6,"v":0},{"x":9,"y":6,"v":0},{"x":10,"y":6,"v":0},{"x":11,"y":6,"v":0},{"x":12,"y":6,"v":0},{"x":13,"y":6,"v":0},{"x":14,"y":6,"v":0},{"x":15,"y":6,"v":0},{"x":16,"y":6,"v":0},{"x":17,"y":6,"v":0},{"x":18,"y":6,"v":0},{"x":19,"y":6,"v":0},{"x":20,"y":6,"v":0},{"x":21,"y":6,"v":0},{"x":22,"y":6,"v":0},{"x":23,"y":6,"v":0},{"x":24,"y":6,"v":0},{"x":25,"y":6,"v":0},{"x":26,"y":6,"v":0},{"x":27,"y":6,"v":0},{"x":28,"y":6,"v":0},{"x":29,"y":6,"v":0},{"x":30,"y":6,"v":0},{"x":31,"y":6,"v":0},{"x":32,"y":6,"v":0},{"x":33,"y":6,"v":0},{"x":34,"y":6,"v":0},{"x":35,"y":6,"v":0},{"x":36,"y":6,"v":0},{"x":37,"y":6,"v":0},{"x":38,"y":6,"v":0},{"x":39,"y":6,"v":0},{"x":40,"y":6,"v":0},{"x":41,"y":6,"v":0},{"x":42,"y":6,"v":0},{"x":43,"y":6,"v":0},{"x":44,"y":6,"v":0},{"x":45,"y":6,"v":0},{"x":46,"y":6,"v":0},{"x":47,"y":6,"v":0},{"x":48,"y":6,"v":0},{"x":49,"y":6,"v":0},{"x":50,"y":6,"v":0},{"x":51,"y":6,"v":0},{"x":52,"y":6,"v":0},{"x":53,"y":6,"v":0},{"x":54,"y":6,"v":0},{"x":55,"y":6,"v":0},{"x":56,"y":6,"v":0},{"x":57,"y":6,"v":0},{"x":58,"y":6,"v":0},{"x":59,"y":6,"v":0},{"x":60,"y":6,"v":0},{"x":61,"y":6,"v":0},{"x":62,"y":6,"v":0},{"x":63,"y":6,"v":0},{"x":64,"y":6,"v":0},{"x":65,"y":6,"v":0},{"x":66,"y":6,"v":0},{"x":67,"y":6,"v":0},{"x":68,"y":6,"v":0},{"x":69,"y":6,"v":0},{"x":70,"y":6,"v":0},{"x":71,"y":6,"v":0},{"x":72,"y":6,"v":0},{"x":73,"y":6,"v":0},{"x":74,"y":6,"v":0},{"x":75,"y":6,"v":0},{"x":76,"y":6,"v":0},{"x":77,"y":6,"v":0},{"x":78,"y":6,"v":0},{"x":79,"y":6,"v":0},
{"x":80,"y":6,"v":0},{"x":81,"y":6,"v":0},{"x":82,"y":6,"v":0},{"x":83,"y":6,"v":0},{"x":84,"y":6,"v":0},{"x":85,"y":6,"v":0},{"x":86,"y":6,"v":0},{"x":87,"y":6,"v":0},{"x":88,"y":6,"v":0},{"x":89,"y":6,"v":0},{"x":90,"y":6,"v":0},{"x":91,"y":6,"v":0},{"x":92,"y":6,"v":0},{"x":93,"y":6,"v":0},{"x":94,"y":6,"v":0},{"x":95,"y":6,"v":0},{"x":96,"y":6,"v":0},{"x":97,"y":6,"v":0},{"x":98,"y":6,"v":0},{"x":99,"y":6,"v":0},{"x":100,"y":6,"v":0},{"x":101,"y":6,"v":0},{"x":102,"y":6,"v":0},{"x":103,"y":6,"v":0},{"x":104,"y":6,"v":0},{"x":105,"y":6,"v":0},{"x":106,"y":6,"v":0},{"x":107,"y":6,"v":0},{"x":108,"y":6,"v":0},{"x":109,"y":6,"v":0},{"x":110,"y":6,"v":0},{"x":111,"y":6,"v":0},{"x":112,"y":6,"v":0},{"x":113,"y":6,"v":0},{"x":114,"y":6,"v":0},{"x":115,"y":6,"v":0},{"x":116,"y":6,"v":0},{"x":117,"y":6,"v":0},{"x":118,"y":6,"v":0},{"x":119,"y":6,"v":0},{"x":120,"y":6,"v":0},{"x":121,"y":6,"v":0},{"x":122,"y":6,"v":0},{"x":123,"y":6,"v":0},{"x":124,"y":6,"v":0},{"x":125,"y":6,"v":0},{"x":126,"y":6,"v":0},{"x":127,"y":6,"v":0},{"x":128,"y":6,"v":0},{"x":129,"y":6,"v":0},{"x":130,"y":6,"v":0},{"x":131,"y":6,"v":0},{"x":132,"y":6,"v":0},{"x":133,"y":6,"v":0},{"x":134,"y":6,"v":0},{"x":135,"y":6,"v":0},{"x":136,"y":6,"v":0},{"x":137,"y":6,"v":0},{"x":138,"y":6,"v":0},{"x":139,"y":6,"v":0},{"x":140,"y":6,"v":0},{"x":141,"y":6,"v":0},{"x":142,"y":6,"v":0},{"x":143,"y":6,"v":0},{"x":144,"y":6,"v":0},{"x":145,"y":6,"v":0},{"x":146,"y":6,"v":0},{"x":147,"y":6,"v":0},{"x":148,"y":6,"v":0},{"x":149,"y":6,"v":0},{"x":150,"y":6,"v":0},{"x":151,"y":6,"v":0},{"x":152,"y":6,"v":0},{"x":153,"y":6,"v":0},{"x":154,"y":6,"v":0},{"x":155,"y":6,"v":0},{"x":156,"y":6,"v":0},{"x":157,"y":6,"v":0},{"x":158,"y":6,"v":0},{"x":159,"y":6,"v":0}
]},
"data":{"name":"cells"},
"layer":[
{"mark":{"type":"rect","strokeWidth":1},"encoding":{
"x":{"field":"x","type":"ordinal","scale":{"padding":0},"axis":{"orient":"bottom","values":[0,20,40,60,80,100,120,140],"title":null,"grid":false,"labelAngle":0,"labelFont":"DejaVu Sans","labelFontSize":48,"labelColor":"#000","labelPadding":29,"tickSize":-15,"tickWidth":2,"tickColor":"#000","domainColor":"#000","domainWidth":4,"zindex":1}},
"y":{"field":"y","type":"ordinal","scale":{"padding":0},"axis":{"orient":"left","title":null,"grid":false,"labelAngle":0,"labelFont":"DejaVu Sans","labelFontSize":48,"labelColor":"#000","labelPadding":30,"tickSize":-15,"tickWidth":2,"tickColor":"#000","domainColor":"#000","domainWidth":4,"zindex":1}},
"color":{"field":"v","type":"quantitative","scale":{"type":"linear","domain":[0,1],"range":["#ffff66","#008066"],"interpolate":"rgb"},"legend":null},
"stroke":{"field":"v","type":"quantitative","scale":{"type":"linear","domain":[0,1],"range":["#ffff66","#008066"],"interpolate":"rgb"},"legend":null}}},
{"mark":{"type":"rect","opacity":0},"encoding":{
"x":{"field":"x","type":"ordinal","axis":{"orient":"top","values":[0,20,40,60,80,100,120,140],"title":null,"grid":false,"labels":false,"tickSize":-15,"tickWidth":2,"tickColor":"#000","domainColor":"#000","domainWidth":4,"zindex":1}},
"y":{"field":"y","type":"ordinal","axis":{"orient":"right","title":null,"grid":false,"labels":false,"tickSize":-15,"tickWidth":2,"tickColor":"#000","domainColor":"#000","domainWidth":4,"zindex":1}}}}
],
"resolve":{"axis":{"x":"independent","y":"independent"}}}
